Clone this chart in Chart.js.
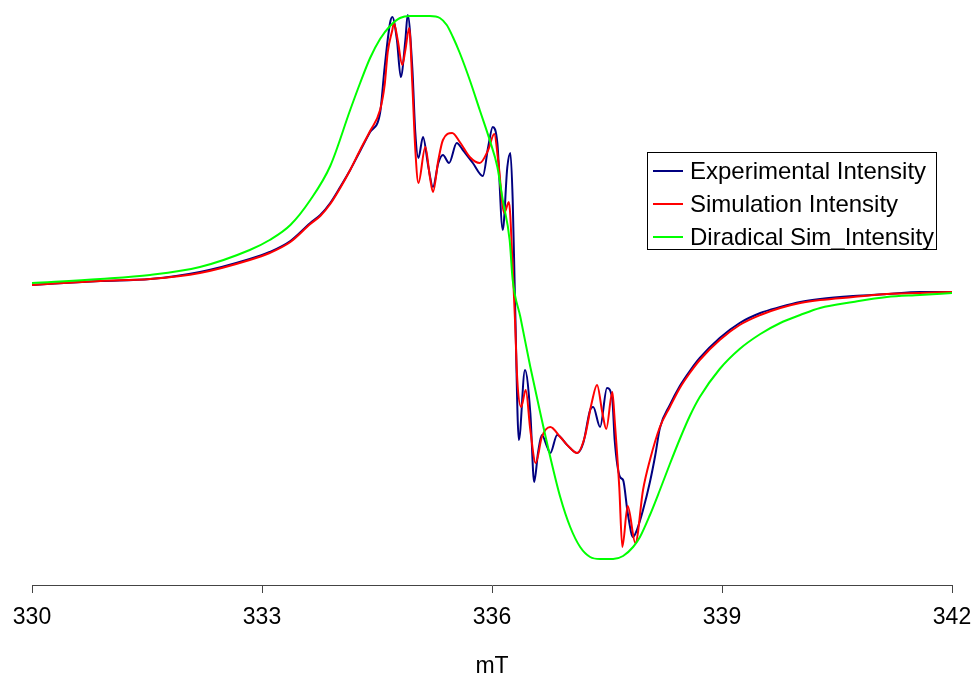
<!DOCTYPE html>
<html>
<head>
<meta charset="utf-8">
<title>EPR spectrum</title>
<script src="https://cdn.jsdelivr.net/npm/chart.js@4.4.1/dist/chart.umd.min.js"></script>
<style>
  html, body { margin: 0; padding: 0; background: #fff; }
  #wrap { position: relative; width: 976px; height: 678px; }
  #legend {
    position: absolute; left: 647px; top: 152px; width: 288px; height: 96px;
    border: 1px solid #000; background: #fff;
    font: 24px "Liberation Sans", Arial, sans-serif; color: #000;
  }
  .row { position: absolute; left: 0; height: 33px; line-height: 33px; white-space: nowrap; }
  .swatch { position: absolute; left: 5px; top: 16px; width: 30px; height: 2px; }
  .label { position: absolute; left: 42px; top: 0; }
</style>
</head>
<body>
<div id="wrap">
  <canvas id="epr" width="976" height="678"></canvas>
  <div id="legend"></div>
</div>
<script>
// field axis (mT) and tick positions
const xTicks = [330, 333, 336, 339, 342];

// experimental spectrum
const expField = [330.00, 330.89, 331.54, 332.19, 332.84, 333.10, 333.37, 333.63, 333.76, 333.89,
  334.02, 334.15, 334.28, 334.41, 334.54, 334.60, 334.67, 334.70, 334.76, 334.81,
  334.87, 334.90, 334.96, 335.00, 335.04, 335.10, 335.17, 335.23, 335.30, 335.36,
  335.44, 335.54, 335.62, 335.75, 335.88, 335.95, 336.01, 336.07, 336.14, 336.20,
  336.24, 336.27, 336.30, 336.35, 336.43, 336.50, 336.55, 336.60, 336.65, 336.72,
  336.76, 336.85, 336.98, 337.11, 337.19, 337.28, 337.32, 337.41, 337.50, 337.57,
  337.60, 337.67, 337.71, 337.77, 337.84, 337.89, 337.97, 338.06, 338.13, 338.19,
  338.32, 338.45, 338.58, 338.71, 338.97, 339.23, 339.50, 339.76, 340.02, 340.28,
  340.71, 341.15, 341.58, 342.00];
const expIntensity = [3, 7, 9, 16, 29, 36, 47, 65, 73, 85,
  101, 118, 137, 156, 175, 221, 265, 271, 248, 211,
  248, 273, 221, 155, 130, 151, 121, 101, 125, 133,
  125, 145, 138, 125, 112, 141, 161, 145, 58, 121,
  135, 88, -12, -152, -82, -125, -194, -165, -147, -159,
  -165, -147, -157, -165, -155, -122, -119, -139, -100, -112,
  -152, -189, -192, -225, -249, -242, -222, -194, -167, -140,
  -117, -98, -83, -70, -50, -35, -25, -19, -14, -11,
  -8, -6, -4, -4];

// simulated spectrum
const simField = [330.00, 330.89, 331.54, 332.19, 332.84, 333.10, 333.37, 333.63, 333.76, 333.89,
  334.02, 334.15, 334.28, 334.41, 334.54, 334.60, 334.64, 334.70, 334.72, 334.77,
  334.83, 334.87, 334.92, 334.96, 335.00, 335.04, 335.13, 335.19, 335.23, 335.30,
  335.36, 335.48, 335.58, 335.71, 335.84, 335.95, 336.03, 336.08, 336.16, 336.22,
  336.27, 336.30, 336.33, 336.38, 336.44, 336.50, 336.57, 336.65, 336.76, 336.89,
  337.02, 337.11, 337.21, 337.30, 337.37, 337.44, 337.49, 337.57, 337.60, 337.66,
  337.70, 337.77, 337.87, 337.97, 338.06, 338.19, 338.32, 338.45, 338.58, 338.71,
  338.97, 339.23, 339.50, 339.76, 340.02, 340.28, 340.71, 341.15, 341.58, 342.00];
const simIntensity = [3, 7, 9, 15, 28, 35, 46, 64, 72, 84,
  100, 118, 138, 157, 178, 203, 236, 258, 265, 248,
  223, 238, 260, 205, 138, 105, 141, 111, 96, 128,
  148, 155, 146, 131, 125, 138, 154, 128, 75, 86,
  21, -32, -92, -119, -102, -142, -175, -149, -139, -149,
  -160, -165, -149, -115, -97, -125, -141, -104, -132, -199,
  -259, -218, -255, -202, -172, -139, -119, -100, -85, -72,
  -52, -37, -27, -20, -15, -12, -9, -6, -5, -4];

// diradical simulation
const diradField = [330.00, 330.89, 331.54, 332.19, 332.84, 333.10, 333.37, 333.63, 333.89, 334.15,
  334.28, 334.41, 334.54, 334.67, 334.80, 334.93, 335.19, 335.32, 335.41, 335.49,
  335.58, 335.71, 335.84, 335.97, 336.07, 336.14, 336.23, 336.27, 336.37, 336.50,
  336.63, 336.76, 336.89, 337.02, 337.15, 337.28, 337.41, 337.58, 337.71, 337.84,
  337.93, 338.06, 338.19, 338.32, 338.45, 338.58, 338.71, 338.97, 339.23, 339.50,
  339.76, 340.02, 340.28, 340.71, 341.15, 341.58, 342.00];
const diradIntensity = [5, 9, 13, 21, 38, 48, 63, 88, 122, 178,
  205, 230, 249, 262, 270, 272, 272, 270, 263, 251,
  235, 208, 178, 148, 121, 88, 48, 8, -29, -79,
  -125, -169, -209, -239, -259, -269, -271, -271, -268, -259,
  -249, -227, -202, -176, -151, -128, -109, -81, -61, -46,
  -35, -27, -20, -14, -9, -7, -5];

const FONT = '"Liberation Sans", Arial, sans-serif';

function points(xs, ys) {
  return xs.map((x, i) => ({ x: x, y: ys[i] }));
}

const datasets = [
  { label: 'Experimental Intensity', data: points(expField, expIntensity), borderColor: '#000080', order: 3 },
  { label: 'Simulation Intensity', data: points(simField, simIntensity), borderColor: '#ff0000', order: 2 },
  { label: 'Diradical Sim_Intensity', data: points(diradField, diradIntensity), borderColor: '#00ff00', order: 1 }
];
datasets.forEach(ds => {
  ds.borderWidth = 2;
  ds.pointRadius = 0;
  ds.fill = false;
  ds.cubicInterpolationMode = 'monotone';
});

const chart = new Chart(document.getElementById('epr'), {
  type: 'line',
  data: { datasets: datasets },
  options: {
    responsive: false,
    animation: false,
    layout: { padding: { left: 32, right: 24, top: 10, bottom: 0 } },
    plugins: { legend: { display: false }, tooltip: { enabled: false } },
    scales: {
      x: {
        type: 'linear',
        min: 330,
        max: 342,
        afterBuildTicks: scale => { scale.ticks = xTicks.map(v => ({ value: v })); },
        afterFit: scale => { scale.height = 93; },
        grid: { drawOnChartArea: false, drawTicks: true, tickLength: 8, color: '#444' },
        border: { display: true, color: '#444', width: 1 },
        // small padding keeps the end labels inside the margins; the tall line height moves them down
        ticks: { color: '#000', padding: 4, maxRotation: 0, font: { family: FONT, size: 23, lineHeight: '42px' } },
        title: { display: true, text: 'mT', color: '#000', padding: { top: 0, bottom: -2 }, font: { family: FONT, size: 23 } }
      },
      y: { display: false, min: -297, max: 278 }
    }
  }
});

// legend box drawn from the dataset list
const legend = document.getElementById('legend');
chart.data.datasets.forEach((ds, i) => {
  const row = document.createElement('div');
  row.className = 'row';
  row.style.top = (1 + i * 33) + 'px';
  row.innerHTML = `<div class="swatch" style="background:${ds.borderColor}"></div><span class="label">${ds.label}</span>`;
  legend.appendChild(row);
});
</script>
</body>
</html>
